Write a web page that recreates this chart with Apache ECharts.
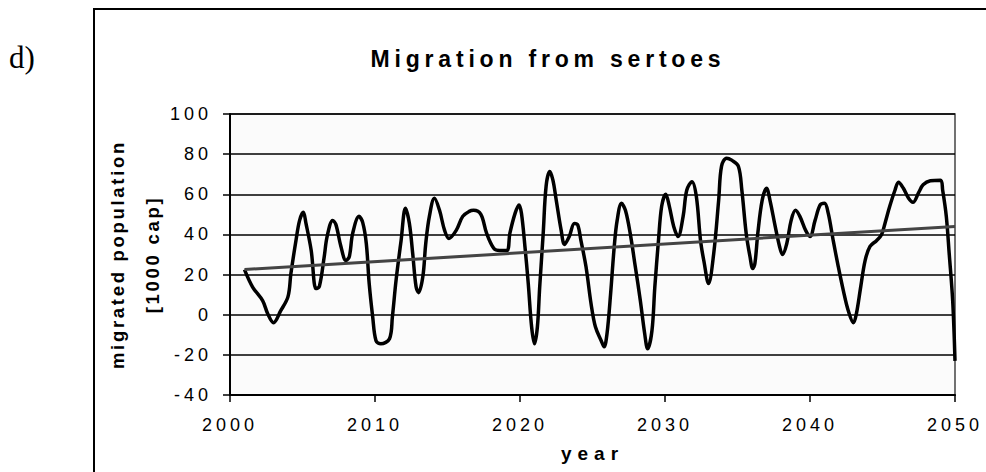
<!DOCTYPE html>
<html>
<head>
<meta charset="utf-8">
<script src="https://cdn.jsdelivr.net/npm/echarts@6/dist/echarts.min.js"></script>
<style>
  html, body { margin: 0; padding: 0; background: #fff; }
  #chart { width: 986px; height: 472px; }
  /* spread-out lettering like the original spreadsheet chart */
  #chart text[style*="18px"] { letter-spacing: 4px; }
  #chart text[style*="23px"] { letter-spacing: 4.8px; }
  #chart text[style*="18.5px"] { letter-spacing: 2.7px; }
  #chart text[style*="19px"] { letter-spacing: 6px; }
</style>
</head>
<body>
<div id="chart"></div>
<script>
// migration series (year, 1000 cap)
const years = [
  2001.0, 2001.56, 2002.25, 2002.6, 2003.0, 2003.5, 2004.0, 2004.2, 2004.55, 2004.8,
  2005.06, 2005.24, 2005.6, 2005.93, 2006.16, 2006.5, 2006.7, 2007.08, 2007.3, 2007.65,
  2008.0, 2008.23, 2008.46, 2008.9, 2009.15, 2009.4, 2009.6, 2009.84, 2010.07, 2010.4,
  2011.0, 2011.2, 2011.45, 2011.8, 2012.1, 2012.37, 2012.6, 2012.83, 2013.0, 2013.3,
  2013.5, 2013.75, 2014.1, 2014.45, 2014.8, 2015.1, 2015.6, 2016.05, 2016.5, 2016.8,
  2017.3, 2017.7, 2018.2, 2018.6, 2019.1, 2019.3, 2019.66, 2019.93, 2020.1, 2020.34,
  2020.57, 2020.8, 2021.0, 2021.2, 2021.36, 2021.6, 2021.8, 2022.05, 2022.27, 2022.5,
  2022.84, 2023.07, 2023.4, 2023.75, 2023.98, 2024.2, 2024.55, 2024.9, 2025.2, 2025.6,
  2025.8, 2026.0, 2026.25, 2026.5, 2026.7, 2027.0, 2027.27, 2027.6, 2027.95, 2028.3,
  2028.6, 2028.8, 2029.1, 2029.3, 2029.55, 2029.77, 2030.05, 2030.3, 2030.6, 2030.9,
  2031.25, 2031.5, 2031.86, 2032.16, 2032.45, 2032.7, 2033.0, 2033.36, 2033.7, 2033.9,
  2034.25, 2034.6, 2035.06, 2035.3, 2035.6, 2035.86, 2036.05, 2036.2, 2036.4, 2036.7,
  2037.0, 2037.24, 2037.6, 2037.9, 2038.1, 2038.4, 2038.7, 2039.0, 2039.3, 2039.7,
  2040.0, 2040.35, 2040.7, 2041.0, 2041.26, 2041.6, 2041.95, 2042.3, 2042.64, 2043.0,
  2043.2, 2043.5, 2043.8, 2044.14, 2044.6, 2044.94, 2045.17, 2045.5, 2045.86, 2046.1,
  2046.44, 2046.8, 2047.1, 2047.5, 2047.8, 2048.3, 2049.0, 2049.15, 2049.4, 2049.6,
  2049.84, 2050.0
]
const migrated = [
  22.5, 13.8, 7, 0.5, -4, 2, 9, 20.5, 37, 47,
  51, 45.5, 32, 13, 14, 29, 39, 47, 45, 34,
  27, 29, 40.5, 49, 46, 35.5, 15.5, -1, -13, -14.5,
  -12, -1, 17, 37, 53, 45.5, 30.5, 14, 11, 19,
  35.5, 49, 58, 52, 42, 38, 42, 49, 51.5, 52,
  50, 40.5, 33, 32, 32, 40.5, 50.5, 54.7, 50.5, 34,
  15.5, -6, -14.5, -6, 14, 40.5, 64, 71.3, 67, 57,
  42, 35, 39, 45.5, 44.7, 37, 24, 5.5, -6, -13,
  -16, -9.5, 10.5, 34, 47, 55.5, 52, 40.5, 24, 7,
  -9.5, -17, -8, 14, 37, 54, 60, 54, 44, 39,
  49, 62, 66.3, 59, 37, 26, 15.5, 30.5, 57, 74,
  78, 77, 74, 62, 40.5, 29, 23, 25.5, 40.5, 57,
  63, 57, 44, 34, 30, 35.5, 47, 52, 49, 42,
  39, 47, 54.7, 55.5, 50.5, 37, 24, 12, 2, -4,
  0.5, 14, 27, 34, 37, 40, 45.5, 54, 62, 66,
  63, 58, 56, 61, 64.7, 66.7, 67, 62, 49, 30.5,
  7, -23
]
// linear trend line end points
const trendYears = [2001, 2050]
const trendValues = [22.5, 44]

const yearTicks = [2000, 2050, 10]
const valueTicks = [-40, 100, 20]

const font = "Liberation Sans"
const chartBox = echarts.init(document.getElementById("chart"), null, { renderer: "svg" })

const options = {
  animation: false,
  title: {
    text: "Migration from sertoes",
    left: 543,
    top: 42,
    textAlign: "center",
    textStyle: { fontFamily: font, fontSize: 23, fontWeight: "bold", color: "#000" }
  },
  graphic: [
    {
      type: "rect",
      shape: { x: 94, y: 9, width: 1000, height: 600 },
      style: { fill: "none", stroke: "#000", lineWidth: 2 },
      silent: true
    },
    {
      type: "text",
      left: 9,
      top: 42,
      style: { text: "d)", fontFamily: "Liberation Serif", fontSize: 31, fill: "#000" }
    }
  ],
  grid: {
    left: 230,
    right: 31,
    top: 114,
    bottom: 77,
    show: true,
    backgroundColor: "#fbfbfb",
    borderColor: "#444",
    borderWidth: 1.5
  },
  xAxis: {
    type: "value",
    min: yearTicks[0],
    max: yearTicks[1],
    interval: yearTicks[2],
    name: "year",
    nameLocation: "middle",
    nameGap: 49,
    nameTextStyle: { fontFamily: font, fontSize: 19, fontWeight: "bold", color: "#000" },
    axisLine: { onZero: false, lineStyle: { color: "#000", width: 2 } },
    axisTick: { show: true, length: 7, lineStyle: { color: "#000", width: 1.5 } },
    splitLine: { show: false },
    axisLabel: { fontFamily: font, fontSize: 18, color: "#000", margin: 21, formatter: v => String(v) }
  },
  yAxis: {
    type: "value",
    min: valueTicks[0],
    max: valueTicks[1],
    interval: valueTicks[2],
    name: "migrated population\n[1000 cap]",
    nameLocation: "middle",
    nameGap: 60,
    nameTextStyle: { fontFamily: font, fontSize: 18.5, fontWeight: "bold", color: "#000", lineHeight: 35 },
    axisLine: { show: true, lineStyle: { color: "#000", width: 2 } },
    axisTick: { show: true, length: 7, lineStyle: { color: "#000", width: 1.5 } },
    splitLine: { show: true, lineStyle: { color: "#000", width: 1.5 } },
    axisLabel: { fontFamily: font, fontSize: 18, color: "#000", margin: 18 }
  },
  series: [
    {
      name: "migrated population",
      type: "line",
      data: years.map((y, i) => [y, migrated[i]]),
      showSymbol: false,
      smooth: 0.35,
      lineStyle: { color: "#000", width: 3.5 }
    },
    {
      name: "trend",
      type: "line",
      data: trendYears.map((y, i) => [y, trendValues[i]]),
      showSymbol: false,
      lineStyle: { color: "#444", width: 3 }
    }
  ]
}
chartBox.setOption(options)
</script>
</body>
</html>
